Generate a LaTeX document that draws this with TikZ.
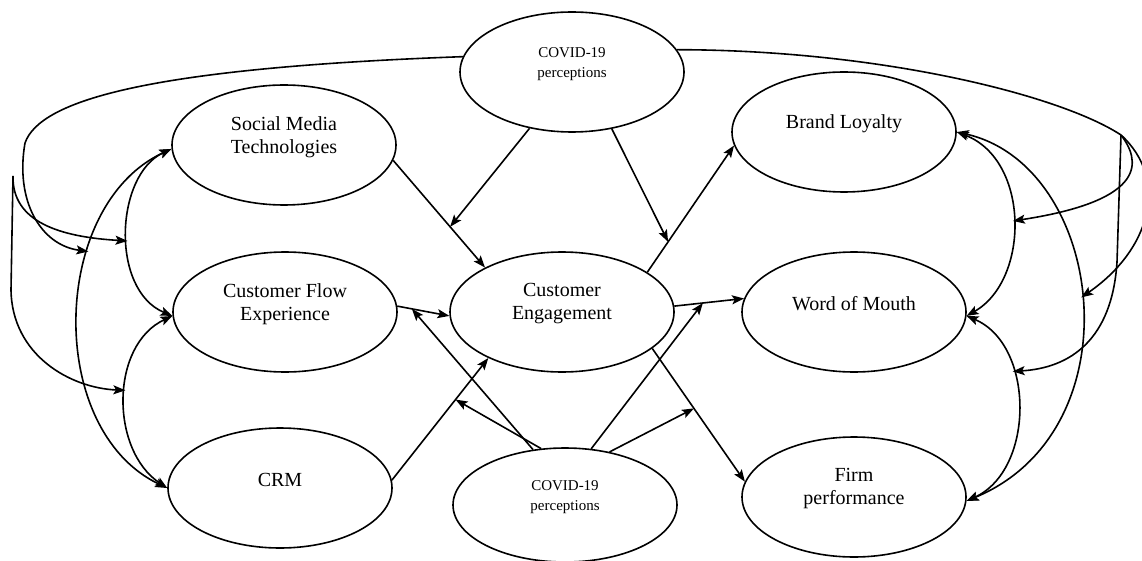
\documentclass[tikz,border=0pt]{standalone}
\usepackage{fontspec}
\setmainfont{Liberation Serif}
\usetikzlibrary{shapes.geometric,arrows.meta,calc}
\begin{document}
\begin{tikzpicture}[x=1pt,y=-1pt,
  ell/.style={ellipse,draw,line width=1.6pt,minimum width=224pt,minimum height=120pt,inner sep=0pt},
  lbl/.style={align=center,font=\fontsize{20}{23}\selectfont,inner sep=0pt,yshift=8pt},
  slbl/.style={align=center,font=\fontsize{15}{20}\selectfont,inner sep=0pt,yshift=8pt},
  con/.style={line width=1.6pt},
  arr/.style={con,-{Stealth[length=12pt,width=9pt,inset=2.5pt]}},
  darr/.style={con,{Stealth[length=12pt,width=9pt,inset=2.5pt]}-{Stealth[length=12pt,width=9pt,inset=2.5pt]}}
]
\useasboundingbox (0,0) rectangle (1142,561);

% nodes
\node[ell,label={[slbl]center:{COVID-19\\perceptions}}] (cvt) at (572,72) {};
\node[ell,label={[lbl]center:{Social Media\\Technologies}}] (smt) at (284,145) {};
\node[ell,label={[lbl]center:{Customer Flow\\Experience}}] (cfe) at (285,312) {};
\node[ell,label={[lbl]center:{CRM}}] (crm) at (280,488) {};
\node[ell,label={[lbl]center:{Customer\\Engagement}}] (ce) at (562,312) {};
\node[ell,minimum height=114pt,label={[slbl]center:{COVID-19\\perceptions}}] (cvb) at (565,505) {};
\node[ell,label={[lbl]center:{Brand Loyalty}}] (bl) at (844,132) {};
\node[ell,label={[lbl]center:{Word of Mouth}}] (wom) at (854,312) {};
\node[ell,label={[lbl]center:{Firm\\performance}}] (fp) at (854,497) {};

% main paths
\draw[arr] (smt.-8) -- coordinate[pos=0.62] (m1) (ce.150);
\draw[arr] (cfe.3) -- coordinate[pos=0.28] (m3) (ce.182);
\draw[arr] (crm.4) -- coordinate[pos=0.66] (m4) (ce.212);
\draw[arr] (ce.25) -- coordinate[pos=0.24] (m2) (bl.187);
\draw[arr] (ce.3) -- coordinate[pos=0.41] (m5) (wom.173);
\draw[arr] (ce.-22) -- coordinate[pos=0.45] (m6) (fp.172);

% moderation arrows from COVID nodes
\draw[arr] (cvt.233) -- (m1);
\draw[arr] (cvt.-55) -- (m2);
\draw[arr] (cvb.120) -- (m3);
\draw[arr] (cvb.113) -- (m4);
\draw[arr] (cvb.65) -- (m5);
\draw[arr] (cvb.50) -- (m6);

% left correlations
\draw[darr] (smt.182) .. controls (115,175) and (110,290) .. coordinate[pos=0.54] (mL2) (cfe.182);
\draw[darr] (cfe.182) .. controls (110,345) and (110,450) .. coordinate[pos=0.46] (mL3) (crm.180);
\draw[darr] (smt.182) .. controls (50,205) and (45,430) .. coordinate[pos=0.34] (mL1) (crm.180);

% right correlations
\draw[darr] (bl.0) .. controls (1030,160) and (1030,280) .. coordinate[pos=0.5] (mR1) (wom.-2);
\draw[darr] (wom.-2) .. controls (1035,345) and (1035,470) .. coordinate[pos=0.34] (mR3) (fp.-2);
\draw[darr] (bl.0) .. controls (1105,165) and (1138,430) .. coordinate[pos=0.49] (mR2) (fp.-2);

% left trunk from top COVID
\coordinate (jL) at (25,143);
\coordinate (jL2) at (13,176);
\coordinate (bL) at (11,290);
\draw[con] (cvt.172) .. controls (150,68) and (40,100) .. (jL);
\draw[arr] (jL) .. controls (15,200) and (40,245) .. (mL1);
\draw[arr] (jL2) .. controls (12,222) and (60,237) .. (mL2);
\draw[arr] (jL2) -- (bL) .. controls (12,355) and (70,388) .. (mL3);

% right trunk from top COVID
\coordinate (jR) at (1121,135);
\coordinate (bR) at (1117,262);
\draw[con] (cvt.12) .. controls (880,50) and (1060,95) .. (jR);
\draw[arr] (jR) .. controls (1170,180) and (1150,250) .. (mR2);
\draw[arr] (jR) .. controls (1140,160) and (1150,200) .. (mR1);
\draw[arr] (jR) -- (bR) .. controls (1112,340) and (1070,368) .. (mR3);
\end{tikzpicture}
\end{document}
